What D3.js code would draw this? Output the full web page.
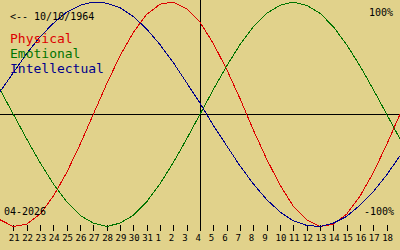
<!DOCTYPE html>
<html>
<head>
<meta charset="utf-8">
<script src="https://cdn.jsdelivr.net/npm/d3@7"></script>
<style>
    body { margin: 0; background: #e1d28b; }
    svg { display: block; }
    text { font-family: "DejaVu Sans Mono", monospace; }
</style>
</head>
<body>
<div id="chart"></div>
<script>

// day labels under the ticks (21 March .. 18 April)
let dayLabels = ["21", "22", "23", "24", "25", "26", "27", "28", "29", "30", "31",
    "1", "2", "3", "4", "5", "6", "7", "8", "9", "10", "11", "12", "13", "14", "15", "16", "17", "18"];

// one value per day, from 20 March to 19 April (31 days)
let physical = [-0.94, -1.00, -0.98, -0.89, -0.73, -0.52, -0.27, 0.00, 0.27, 0.52, 0.73,
    0.89, 0.98, 1.00, 0.94, 0.82, 0.63, 0.40, 0.14, -0.14, -0.40, -0.63, -0.82, -0.94,
    -1.00, -0.98, -0.89, -0.73, -0.52, -0.27, 0.00];
let emotional = [0.22, 0.00, -0.22, -0.43, -0.62, -0.78, -0.90, -0.97, -1.00, -0.97, -0.90,
    -0.78, -0.62, -0.43, -0.22, 0.00, 0.22, 0.43, 0.62, 0.78, 0.90, 0.97, 1.00, 0.97,
    0.90, 0.78, 0.62, 0.43, 0.22, 0.00, -0.22];
let intellectual = [0.20, 0.37, 0.54, 0.69, 0.81, 0.91, 0.97, 1.00, 0.99, 0.95, 0.87,
    0.76, 0.62, 0.46, 0.28, 0.10, -0.10, -0.28, -0.46, -0.62, -0.76, -0.87, -0.95, -0.99,
    -1.00, -0.97, -0.91, -0.81, -0.69, -0.54, -0.37];

let seriesNames = ["Physical", "Emotional", "Intellectual"];
let seriesColors = ["#dd0000", "#007400", "#00008c"];

let birthLabel = "<-- 10/10/1964";
let monthLabel = "04-2026";


class Biorhythm {
    constructor(parentElement) {
        this.parentElement = parentElement;
        this.series = [physical, emotional, intellectual];
    }

    initVis() {
        let vis = this;
        vis.width = 400;
        vis.height = 250;

        vis.svg = d3.select("#" + vis.parentElement).append("svg")
            .attr("width", vis.width)
            .attr("height", vis.height)

        vis.x = d3.scaleLinear().domain([0, physical.length - 1]).range([0, vis.width]);
        vis.y = d3.scaleLinear().domain([-1, 1]).range([226.5, 2]);

        let mid = (physical.length - 1) / 2;
        let zeroY = Math.round(vis.y(0)) + 0.5;

        // zero line and today line
        vis.svg.append("line")
            .attr("x1", 0).attr("x2", vis.width)
            .attr("y1", zeroY).attr("y2", zeroY)
            .attr("stroke", "black")
            .attr("shape-rendering", "crispEdges")

        vis.svg.append("line")
            .attr("x1", vis.x(mid) + 0.5).attr("x2", vis.x(mid) + 0.5)
            .attr("y1", 0).attr("y2", 231)
            .attr("stroke", "black")
            .attr("shape-rendering", "crispEdges")

        // day ticks
        let axis = d3.axisBottom(vis.x)
            .tickValues(d3.range(1, physical.length - 1))
            .tickFormat(i => dayLabels[i - 1])
            .tickSize(6)

        let axisG = vis.svg.append("g")
            .attr("transform", "translate(0,225)")
            .call(axis)

        axisG.select(".domain").remove();
        axisG.selectAll("line").attr("stroke", "black").attr("shape-rendering", "crispEdges");
        axisG.selectAll("text")
            .attr("text-anchor", "start")
            .attr("x", -5)
            .attr("y", 16)
            .attr("dy", null)
            .attr("font-family", "DejaVu Sans Mono")
            .attr("font-size", 9)
            .attr("fill", "black")

        // curves
        vis.line = d3.line()
            .x((d, i) => vis.x(i))
            .y(d => vis.y(d))

        vis.svg.selectAll(".curve")
            .data(vis.series)
            .enter()
            .append("path")
            .attr("class", "curve")
            .attr("d", d => vis.line(d))
            .attr("fill", "none")
            .attr("stroke", (d, i) => seriesColors[i])
            .attr("stroke-width", 1)
            .attr("shape-rendering", "crispEdges")

        // labels
        vis.svg.append("text")
            .text(birthLabel)
            .attr("x", 10)
            .attr("y", 20)
            .attr("font-size", 10)

        vis.svg.selectAll(".legend")
            .data(seriesNames)
            .enter()
            .append("text")
            .attr("class", "legend")
            .text(d => d)
            .attr("x", 10)
            .attr("y", (d, i) => 43 + i * 15)
            .attr("font-size", 13)
            .attr("fill", (d, i) => seriesColors[i])

        vis.svg.append("text")
            .text("100%")
            .attr("x", 369)
            .attr("y", 16)
            .attr("font-size", 10)

        vis.svg.append("text")
            .text("-100%")
            .attr("x", 364)
            .attr("y", 215)
            .attr("font-size", 10)

        vis.svg.append("text")
            .text(monthLabel)
            .attr("x", 4)
            .attr("y", 215)
            .attr("font-size", 10)
    }
}

let chart = new Biorhythm("chart");
chart.initVis();

</script>
</body>
</html>
